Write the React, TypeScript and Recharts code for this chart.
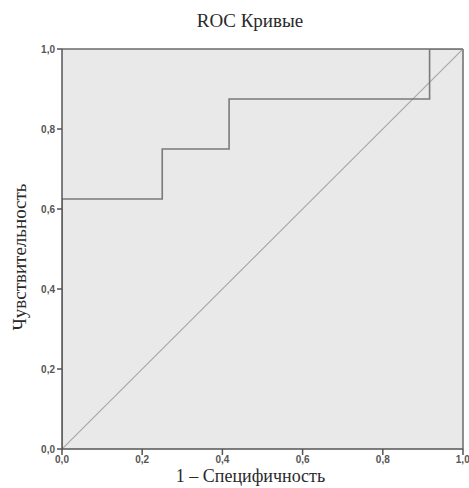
import React from "react";
import {
  LineChart, Line, XAxis, YAxis, CartesianGrid, ReferenceLine, Label,
} from "recharts";

// ROC-кривая: доля ложноположительных (1 – специфичность) и чувствительность
const fpr = [0, 0, 3 / 12, 3 / 12, 5 / 12, 5 / 12, 11 / 12, 11 / 12, 1];
const tpr = [0, 0.625, 0.625, 0.75, 0.75, 0.875, 0.875, 1, 1];
const diagX = [0, 1];
const diagY = [0, 1];
const ticks = [0, 0.2, 0.4, 0.6, 0.8, 1];

const curve = fpr.map((x, i) => ({ x, y: tpr[i] }));
const diagonal = diagX.map((x, i) => ({ x, y: diagY[i] }));

const serif = "'Liberation Serif', 'Times New Roman', serif";
const tickStyle = {
  fontFamily: "'Liberation Sans', Arial, sans-serif",
  fontSize: 10,
  fontWeight: 700,
  fill: "#555",
};
const fmt = (v: number) => v.toFixed(1).replace(".", ",");

// подписи осей рисуются от области графика
const XTitle = ({ viewBox }: any) => (
  <text x={viewBox.x + viewBox.width / 2 - 12} y={482} textAnchor="middle"
    fontFamily={serif} fontSize={18} fill="#2a2a2a">
    1 – Специфичность
  </text>
);

const YTitle = ({ viewBox }: any) => {
  const cy = viewBox.y + viewBox.height / 2 + 8;
  return (
    <text x={26} y={cy} transform={`rotate(-90 26 ${cy})`} textAnchor="middle"
      fontFamily={serif} fontSize={19} fill="#2a2a2a">
      Чувствительность
    </text>
  );
};

export default function App() {
  return (
    <div style={{ position: "absolute", left: 0, top: 0, width: 469, height: 488, background: "#fff" }}>
      <div
        style={{
          position: "absolute", left: 0, width: 500, top: 10, textAlign: "center",
          fontFamily: serif, fontSize: 19, color: "#2a2a2a",
        }}
      >
        ROC Кривые
      </div>
      <LineChart width={469} height={488} margin={{ top: 49, right: 6, bottom: 0, left: 0 }}>
        <CartesianGrid fill="#e9e9ea" stroke="none" horizontal={false} vertical={false} />
        <XAxis
          type="number" dataKey="x" domain={[0, 1]} ticks={ticks} tickFormatter={fmt}
          height={39} tick={tickStyle} tickSize={6} tickMargin={1}
          stroke="#555" strokeWidth={1.5} allowDataOverflow
        >
          <Label content={<XTitle />} />
        </XAxis>
        <YAxis
          type="number" dataKey="y" domain={[0, 1]} ticks={ticks} tickFormatter={fmt}
          width={62} tick={tickStyle} tickSize={5} tickMargin={2}
          stroke="#555" strokeWidth={1.5} allowDataOverflow
        >
          <Label content={<YTitle />} />
        </YAxis>
        <ReferenceLine y={1} stroke="#6a6a6a" strokeWidth={1.5} />
        <ReferenceLine x={1} stroke="#6a6a6a" strokeWidth={1.5} />
        <Line data={diagonal} dataKey="y" type="linear" stroke="#a8a8a8" strokeWidth={1.2}
          dot={false} isAnimationActive={false} />
        <Line data={curve} dataKey="y" type="linear" stroke="#7a7a7a" strokeWidth={1.6}
          dot={false} isAnimationActive={false} />
      </LineChart>
    </div>
  );
}
